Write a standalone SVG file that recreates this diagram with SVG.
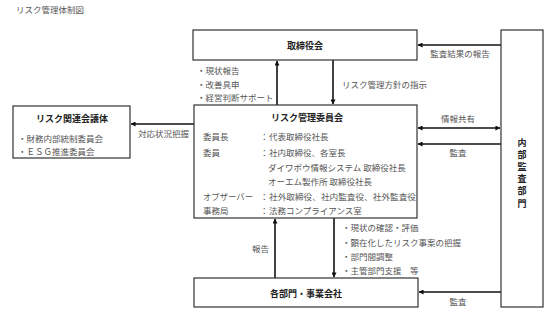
<svg xmlns="http://www.w3.org/2000/svg" width="552" height="318" viewBox="0 0 552 318">
<defs>
<style>
text{font-family:"Noto Sans CJK JP","Noto Sans",sans-serif;font-size:8.5px;fill:#555;dominant-baseline:central}
.t{font-weight:bold;fill:#222;font-size:9px;text-anchor:middle}
.c{text-anchor:middle}
.box{fill:#fff;stroke:#333;stroke-width:1.2}
.ln{stroke:#111;stroke-width:1.6;fill:none}
</style>
<marker id="ah" viewBox="0 0 6 6" refX="5.5" refY="3" markerWidth="5" markerHeight="5" markerUnits="userSpaceOnUse" orient="auto-start-reverse">
<path d="M0,0L6,3L0,6z" fill="#111"/>
</marker>
</defs>
<rect width="552" height="318" fill="#fff"/>
<text x="16" y="8.5">リスク管理体制図</text>

<g id="connectors">
<line class="ln" x1="501" y1="45" x2="418" y2="45" marker-end="url(#ah)"/>
<line class="ln" x1="277" y1="105" x2="277" y2="61" marker-end="url(#ah)"/>
<line class="ln" x1="333" y1="60" x2="333" y2="104" marker-end="url(#ah)"/>
<line class="ln" x1="194" y1="124" x2="131" y2="124" marker-end="url(#ah)"/>
<line class="ln" x1="418" y1="128" x2="500" y2="128" marker-start="url(#ah)" marker-end="url(#ah)"/>
<line class="ln" x1="501" y1="144" x2="418" y2="144" marker-end="url(#ah)"/>
<line class="ln" x1="275" y1="278" x2="275" y2="219" marker-end="url(#ah)"/>
<line class="ln" x1="334" y1="218" x2="334" y2="277" marker-end="url(#ah)"/>
<line class="ln" x1="501" y1="292" x2="419" y2="292" marker-end="url(#ah)"/>
<text class="c" x="460" y="53">監査結果の報告</text>
<text x="197" y="70">・現状報告</text>
<text x="197" y="83.5">・改善具申</text>
<text x="197" y="97">・経営判断サポート</text>
<text x="342" y="83.5">リスク管理方針の指示</text>
<text x="138" y="133">対応状況把握</text>
<text class="c" x="458" y="118">情報共有</text>
<text class="c" x="458" y="152">監査</text>
<text x="252" y="248">報告</text>
<text x="342" y="227">・現状の確認・評価</text>
<text x="342" y="241.5">・顕在化したリスク事案の把握</text>
<text x="342" y="256">・部門間調整</text>
<text x="342" y="270">・主管部門支援　等</text>
<text class="c" x="458" y="301">監査</text>
</g>

<g id="board">
<rect class="box" x="193" y="30" width="224" height="30"/>
<text class="t" x="305" y="45">取締役会</text>
</g>

<g id="audit">
<rect class="box" x="501" y="30" width="42" height="277"/>
<text class="t" x="522" y="142">内</text>
<text class="t" x="522" y="154.5">部</text>
<text class="t" x="522" y="166.5">監</text>
<text class="t" x="522" y="178">査</text>
<text class="t" x="522" y="190.5">部</text>
<text class="t" x="522" y="203">門</text>
</g>

<g id="related">
<rect class="box" x="13" y="106" width="117" height="52"/>
<text class="t" x="72" y="118">リスク関連会議体</text>
<text x="18" y="137.5">・財務内部統制委員会</text>
<text x="18" y="150.5">・ＥＳＧ推進委員会</text>
</g>

<g id="committee">
<rect class="box" x="194" y="105" width="223" height="113"/>
<text class="t" x="307" y="117">リスク管理委員会</text>
<text x="203" y="136">委員長</text>
<text x="260" y="136">：</text>
<text x="269" y="136">代表取締役社長</text>
<text x="203" y="152">委員</text>
<text x="260" y="152">：</text>
<text x="269" y="152">社内取締役、各室長</text>
<text x="268" y="167">ダイワボウ情報システム 取締役社長</text>
<text x="268" y="181">オーエム製作所 取締役社長</text>
<text x="203" y="196" textLength="50" lengthAdjust="spacingAndGlyphs">オブザーバー</text>
<text x="260" y="196">：</text>
<text x="269" y="196" textLength="147" lengthAdjust="spacingAndGlyphs">社外取締役、社内監査役、社外監査役</text>
<text x="203" y="210">事務局</text>
<text x="260" y="210">：</text>
<text x="269" y="210">法務コンプライアンス室</text>
</g>

<g id="departments">
<rect class="box" x="194" y="278" width="224" height="29"/>
<text class="t" x="306" y="293">各部門・事業会社</text>
</g>
</svg>
